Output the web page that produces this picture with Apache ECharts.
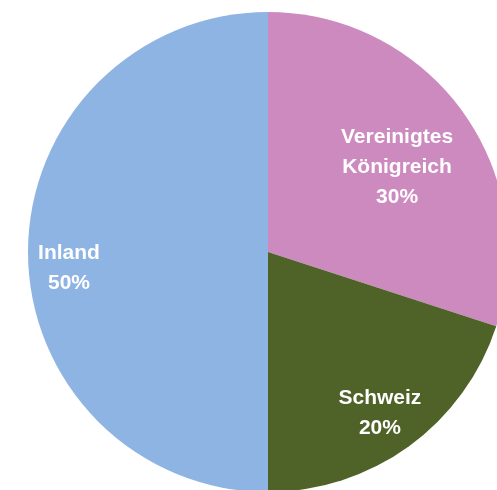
<!DOCTYPE html>
<html lang="de">
<head>
    <meta charset="UTF-8">
    <title>Pie</title>
    <script src="https://cdn.jsdelivr.net/npm/echarts@6.0.0/dist/echarts.min.js"></script>
    <style>
        html, body { margin: 0; padding: 0; background: #fff; }
        #chart { width: 497px; height: 490px; }
    </style>
</head>
<body>
    <div id="chart"></div>
    <script>
        // Daten
        const names = ['Vereinigtes\nKönigreich', 'Schweiz', 'Inland'];
        const values = [30, 20, 50];
        const colors = ['#CD8ABE', '#4F6228', '#8EB4E3'];
        // Lage der Beschriftung: Anteil des Radius und Winkelkorrektur (Grad)
        const labelDist = [0.644, 0.817, 0.832];
        const labelShift = [-2.6, -1.2, 4.6];

        const cx = 268, cy = 252, r = 240;
        const total = values.reduce((a, b) => a + b, 0);

        const chart = echarts.init(document.getElementById('chart'));
        chart.setOption({
            animation: false,
            series: [{
                type: 'pie',
                center: [cx, cy],
                radius: [0, r],
                startAngle: 90,
                clockwise: true,
                data: names.map((n, i) => ({ name: n, value: values[i], itemStyle: { color: colors[i] } })),
                label: {
                    position: 'inside',
                    formatter: '{b}\n{d}%',
                    color: '#fff',
                    fontFamily: 'Liberation Sans',
                    fontWeight: 'bold',
                    fontSize: 21,
                    lineHeight: 30,
                    align: 'center'
                },
                labelLine: { show: false },
                labelLayout: function (p) {
                    const i = p.dataIndex;
                    let cum = 0;
                    for (let k = 0; k < i; k++) cum += values[k];
                    const mid = (90 - 360 * (cum + values[i] / 2) / total + labelShift[i]) * Math.PI / 180;
                    return {
                        x: cx + Math.cos(mid) * r * labelDist[i],
                        y: cy - Math.sin(mid) * r * labelDist[i],
                        align: 'center',
                        verticalAlign: 'middle'
                    };
                }
            }]
        });
    </script>
</body>
</html>
